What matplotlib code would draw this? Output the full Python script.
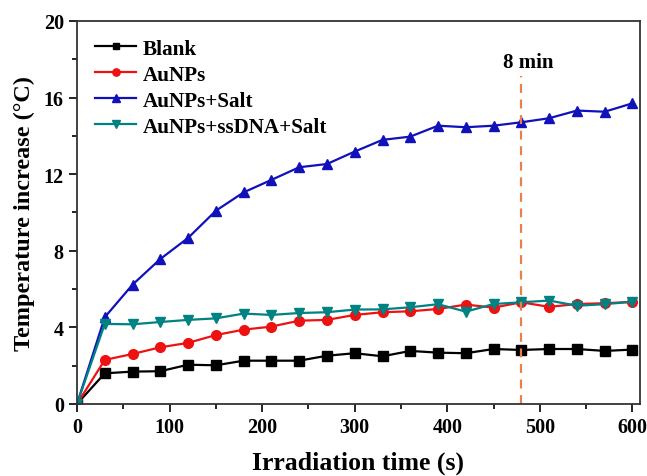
import matplotlib
matplotlib.use("Agg")
import matplotlib.pyplot as plt
from matplotlib.ticker import MultipleLocator

plt.rcParams['font.family'] = ['Liberation Serif', 'DejaVu Serif']
plt.rcParams['font.weight'] = 'bold'

time_s = [0, 30, 60, 90, 120, 150, 180, 210, 240, 270, 300, 330, 360, 390, 420, 450, 480, 510, 540, 570, 600]
blank = [0, 1.60, 1.69, 1.71, 2.05, 2.02, 2.26, 2.26, 2.26, 2.52, 2.65, 2.49, 2.77, 2.68, 2.65, 2.87, 2.82, 2.87, 2.87, 2.77, 2.84]
aunps = [0, 2.30, 2.61, 2.96, 3.19, 3.60, 3.88, 4.04, 4.35, 4.39, 4.65, 4.79, 4.84, 4.96, 5.19, 5.03, 5.31, 5.07, 5.22, 5.26, 5.33]
aunps_salt = [0, 4.53, 6.23, 7.57, 8.67, 10.09, 11.05, 11.70, 12.36, 12.53, 13.18, 13.79, 13.96, 14.53, 14.45, 14.53, 14.71, 14.92, 15.32, 15.26, 15.70]
aunps_dna_salt = [0, 4.18, 4.16, 4.28, 4.39, 4.47, 4.72, 4.65, 4.75, 4.79, 4.93, 4.94, 5.05, 5.21, 4.82, 5.22, 5.31, 5.40, 5.13, 5.21, 5.34]
labels = ['Blank', 'AuNPs', 'AuNPs+Salt', 'AuNPs+ssDNA+Salt']
mark_time = 480
mark_text = '8 min'

fig = plt.figure(figsize=(6.47, 4.77), dpi=100)
ax = fig.add_axes([0.119, 0.151, 0.870, 0.803])

ax.plot(time_s, blank, color='black', marker='s', markersize=6.5, lw=1.6, label=labels[0])
ax.plot(time_s, aunps, color='#EE1111', marker='o', markersize=7, lw=1.6, label=labels[1])
ax.plot(time_s, aunps_salt, color='#1111BB', marker='^', markersize=7.5, lw=1.6, label=labels[2])
ax.plot(time_s, aunps_dna_salt, color='#008282', marker='v', markersize=7.5, lw=1.6, label=labels[3])

ax.plot([mark_time, mark_time], [0, 17.1], color='#E8804A', lw=1.6, ls=(0, (4, 3)))
ax.text(mark_time + 7, 17.35, mark_text, ha='center', va='bottom', fontsize=15, fontweight='bold')

ax.set_xlim(0, 608)
ax.set_ylim(0, 20)
ax.xaxis.set_major_locator(MultipleLocator(100))
ax.xaxis.set_minor_locator(MultipleLocator(50))
ax.yaxis.set_major_locator(MultipleLocator(4))
ax.yaxis.set_minor_locator(MultipleLocator(2))
ax.tick_params(which='major', direction='out', length=6, width=1.2, labelsize=14.5)
ax.tick_params(which='minor', direction='out', length=3.5, width=1.2)
for lab in ax.get_xticklabels() + ax.get_yticklabels():
    lab.set_fontweight('bold')
for sp in ax.spines.values():
    sp.set_linewidth(1.3)
    sp.set_color('#333333')

ax.set_xlabel('Irradiation time (s)', fontsize=18.5, fontweight='bold', labelpad=10)
ax.set_ylabel('Temperature increase (°C)', fontsize=17.5, fontweight='bold', labelpad=6)

leg = ax.legend(loc='upper left', frameon=False, handlelength=1.95, markerscale=0.75,
                handletextpad=0.3, labelspacing=0.28, borderaxespad=0.4,
                borderpad=0.45, prop={'weight': 'bold', 'size': 15.2})

fig.savefig('out.png', dpi=100)
